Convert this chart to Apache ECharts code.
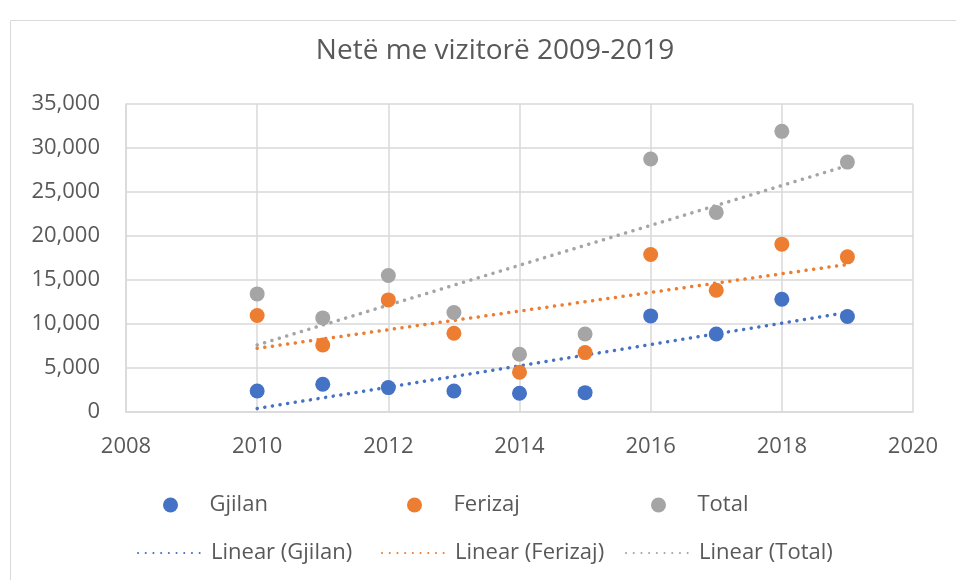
<!DOCTYPE html>
<html>
<head>
<meta charset="utf-8">
<script src="https://cdn.jsdelivr.net/npm/echarts@6/dist/echarts.min.js"></script>
<style>
  html, body { margin: 0; padding: 0; background: #fff; }
  #main { width: 956px; height: 580px; }
</style>
</head>
<body>
<div id="main"></div>
<script>
// data
var years = [2010, 2011, 2012, 2013, 2014, 2015, 2016, 2017, 2018, 2019];
var gjilan = [2390, 3150, 2775, 2390, 2130, 2200, 10920, 8870, 12820, 10850];
var ferizaj = [10965, 7620, 12740, 8950, 4515, 6750, 17900, 13840, 19075, 17630];
var total = [13420, 10690, 15515, 11305, 6560, 8870, 28745, 22680, 31895, 28400];
var names = ['Gjilan', 'Ferizaj', 'Total'];
var colors = ['#4472C4', '#ED7D31', '#A5A5A5'];

var textColor = '#595959';
var font = '"Open Sans", sans-serif';

function pairs(ys) {
  return years.map(function (x, i) { return [x, ys[i]]; });
}

// least squares trend, drawn from first to last year
function trend(ys) {
  var n = years.length, mx = 0, my = 0;
  for (var i = 0; i < n; i++) { mx += years[i]; my += ys[i]; }
  mx /= n; my /= n;
  var sxy = 0, sxx = 0;
  for (var i = 0; i < n; i++) {
    sxy += (years[i] - mx) * (ys[i] - my);
    sxx += (years[i] - mx) * (years[i] - mx);
  }
  var b = sxy / sxx, a = my - b * mx;
  var x0 = years[0], x1 = years[n - 1];
  return [[x0, a + b * x0], [x1, a + b * x1]];
}

function dots(name, ys, color) {
  return {
    name: name, type: 'scatter', data: pairs(ys),
    symbol: 'circle', symbolSize: 15,
    itemStyle: { color: color, opacity: 1 },
    z: 3
  };
}

function trendLine(name, ys, color) {
  return {
    name: name, type: 'line', data: trend(ys),
    symbol: 'none', silent: true,
    lineStyle: { color: color, width: 3.5, type: [0.1, 7.6], cap: 'round' },
    itemStyle: { color: color },
    z: 2
  };
}

var legendText = { color: textColor, fontFamily: font, fontSize: 22 };
var colLeft = [132, 376, 620];

// one legend per entry so the columns line up like the reference
var legends = [];
names.forEach(function (nm, i) {
  legends.push({
    data: [nm], left: colLeft[i] + 26, top: 489,
    itemWidth: 68, itemHeight: 15, selectedMode: false, icon: 'circle',
    textStyle: legendText
  });
  legends.push({
    data: ['Linear (' + nm + ')'], left: colLeft[i], top: 537,
    itemWidth: 68, itemHeight: 15, selectedMode: false,
    itemStyle: { opacity: 0 },
    textStyle: legendText
  });
});

var chart = echarts.init(document.getElementById('main'));
chart.setOption({
  animation: false,
  title: {
    text: 'Netë me vizitorë 2009-2019',
    left: 490, top: 32, textAlign: 'center',
    textStyle: { color: textColor, fontFamily: font, fontSize: 28, fontWeight: 'normal' }
  },
  graphic: [{
    type: 'rect',
    shape: { x: 10.5, y: 20.5, width: 1000, height: 1000 },
    style: { fill: 'none', stroke: '#d9d9d9', lineWidth: 1 },
    silent: true
  }],
  legend: legends,
  grid: { left: 126, right: 43, top: 104, bottom: 168 },
  xAxis: {
    type: 'value', min: 2008, max: 2020, interval: 2,
    axisLine: { show: true, lineStyle: { color: '#d9d9d9', width: 1.5 } },
    axisTick: { show: false },
    splitLine: { show: true, lineStyle: { color: '#d9d9d9', width: 1.5 } },
    axisLabel: {
      color: textColor, fontFamily: font, fontSize: 22, margin: 24,
      formatter: function (v) { return String(v); }
    }
  },
  yAxis: {
    type: 'value', min: 0, max: 35000, interval: 5000,
    axisLine: { show: true, lineStyle: { color: '#d9d9d9', width: 1.5 } },
    axisTick: { show: false },
    splitLine: { show: true, lineStyle: { color: '#d9d9d9', width: 1.5 } },
    axisLabel: {
      color: textColor, fontFamily: font, fontSize: 22, margin: 26,
      formatter: function (v) { return v.toLocaleString('en-US'); }
    }
  },
  series: [
    dots(names[0], gjilan, colors[0]),
    dots(names[1], ferizaj, colors[1]),
    dots(names[2], total, colors[2]),
    trendLine('Linear (Gjilan)', gjilan, colors[0]),
    trendLine('Linear (Ferizaj)', ferizaj, colors[1]),
    trendLine('Linear (Total)', total, colors[2])
  ]
});
</script>
</body>
</html>
